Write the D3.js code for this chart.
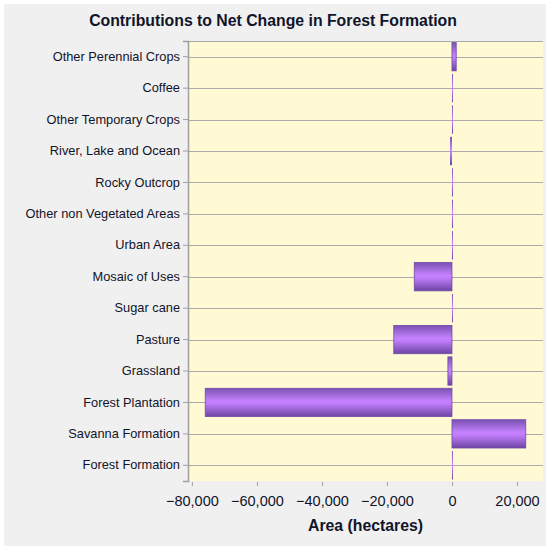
<!DOCTYPE html>
<html>
<head>
<meta charset="utf-8">
<script src="https://cdn.jsdelivr.net/npm/d3@7"></script>
<style>
  html, body { margin: 0; padding: 0; background: #ffffff; }
  svg { display: block; }
  text { font-family: "Liberation Sans", Arial, sans-serif; }
</style>
</head>
<body>
<script>
//// Data ////////////////////////////////////////////
const CATEGORIES = [
  "Other Perennial Crops",
  "Coffee",
  "Other Temporary Crops",
  "River, Lake and Ocean",
  "Rocky Outcrop",
  "Other non Vegetated Areas",
  "Urban Area",
  "Mosaic of Uses",
  "Sugar cane",
  "Pasture",
  "Grassland",
  "Forest Plantation",
  "Savanna Formation",
  "Forest Formation"
]
// hectares
const VALUES = [1300, 60, 40, -600, 20, 30, 20, -11600, 120, -17900, -1250, -75900, 22700, 0]
const X_TICKS = [-80000, -60000, -40000, -20000, 0, 20000]

const TITLE = "Contributions to Net Change in Forest Formation"
const X_TITLE = "Area (hectares)"

//// Layout //////////////////////////////////////////
const WIDTH = 550
const HEIGHT = 550
const PLOT = { left: 188, right: 543, top: 41, bottom: 481 }

const svg = d3.select("body").append("svg")
  .attr("width", WIDTH)
  .attr("height", HEIGHT)

// panel background
svg.append("rect")
  .attr("x", 4).attr("y", 4)
  .attr("width", WIDTH - 8).attr("height", HEIGHT - 8)
  .attr("fill", "#f0f0f0")

const defs = svg.append("defs")
const grad = defs.append("linearGradient")
  .attr("id", "barGrad")
  .attr("x1", 0).attr("y1", 0).attr("x2", 0).attr("y2", 1)
grad.append("stop").attr("offset", "0%").attr("stop-color", "#7a52b2")
grad.append("stop").attr("offset", "45%").attr("stop-color", "#c582ff")
grad.append("stop").attr("offset", "55%").attr("stop-color", "#c07cfa")
grad.append("stop").attr("offset", "100%").attr("stop-color", "#6c45a2")

const x = d3.scaleLinear()
  .domain([-81200, 28000])
  .range([PLOT.left, PLOT.right])

const y = d3.scaleBand()
  .domain(CATEGORIES)
  .range([PLOT.top, PLOT.bottom])
  .paddingInner(0.1)
  .paddingOuter(0.05)

// plot background
svg.append("rect")
  .attr("x", PLOT.left).attr("y", PLOT.top)
  .attr("width", PLOT.right - PLOT.left)
  .attr("height", PLOT.bottom - PLOT.top)
  .attr("fill", "#fffad4")

// top border
svg.append("line")
  .attr("x1", PLOT.left).attr("x2", PLOT.right)
  .attr("y1", PLOT.top + 0.5).attr("y2", PLOT.top + 0.5)
  .attr("stroke", "#a8a8a8")

// horizontal gridlines at category centers
svg.append("g").selectAll("line")
  .data(CATEGORIES)
  .join("line")
  .attr("x1", PLOT.left).attr("x2", PLOT.right)
  .attr("y1", d => Math.round(y(d) + y.bandwidth() / 2) + 0.5)
  .attr("y2", d => Math.round(y(d) + y.bandwidth() / 2) + 0.5)
  .attr("stroke", "#ababab")
  .attr("stroke-width", 1.2)

// bars
svg.append("g").selectAll("rect")
  .data(CATEGORIES.map((c, i) => ({ c, v: VALUES[i] })))
  .join("rect")
  .attr("x", d => Math.min(x(0), x(d.v)))
  .attr("y", d => y(d.c))
  .attr("width", d => Math.max(1, Math.abs(x(d.v) - x(0))))
  .attr("height", y.bandwidth())
  .attr("fill", "url(#barGrad)")
  .attr("stroke", d => Math.abs(x(d.v) - x(0)) > 2 ? "#7048a8" : "none")
  .attr("stroke-width", 0.8)

// y axis
const yAxis = svg.append("g")
  .attr("transform", `translate(${PLOT.left},0)`)
  .call(d3.axisLeft(y).tickSize(5).tickPadding(3))
yAxis.select(".domain").attr("stroke", "#a0a0a0").attr("stroke-width", 1.5)
yAxis.selectAll(".tick line").attr("stroke", "#a0a0a0")
yAxis.selectAll(".tick text")
  .attr("font-size", 12.8)
  .attr("fill", "#10142a")
  .style("font-family", "'Liberation Sans', Arial, sans-serif")

// x axis
const xAxis = svg.append("g")
  .attr("transform", `translate(0,${PLOT.bottom})`)
  .call(d3.axisBottom(x).tickValues(X_TICKS).tickFormat(d3.format(",")).tickSize(5).tickPadding(10))
xAxis.select(".domain").remove()
xAxis.selectAll(".tick line").attr("stroke", "#a0a0a0").attr("y1", 1)
xAxis.selectAll(".tick text")
  .attr("font-size", 14.5)
  .attr("fill", "#10142a")
  .style("font-family", "'Liberation Sans', Arial, sans-serif")

// titles
svg.append("text")
  .attr("x", 273).attr("y", 26)
  .attr("text-anchor", "middle")
  .attr("font-size", 15.8)
  .attr("font-weight", "bold")
  .attr("fill", "#10142a")
  .text(TITLE)

svg.append("text")
  .attr("x", (PLOT.left + PLOT.right) / 2).attr("y", 531)
  .attr("text-anchor", "middle")
  .attr("font-size", 15.8)
  .attr("font-weight", "bold")
  .attr("fill", "#10142a")
  .text(X_TITLE)
</script>
</body>
</html>
